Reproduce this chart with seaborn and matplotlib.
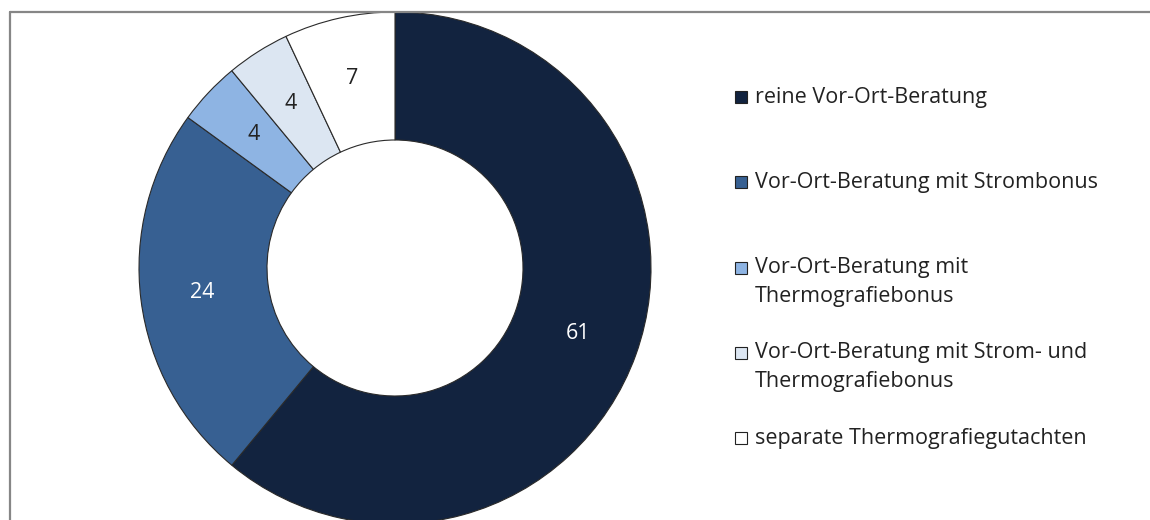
import matplotlib
matplotlib.use("Agg")
import matplotlib.pyplot as plt
import seaborn as sns
from matplotlib.patches import Rectangle
from matplotlib.lines import Line2D

categories = [
    "reine Vor-Ort-Beratung",
    "Vor-Ort-Beratung mit Strombonus",
    "Vor-Ort-Beratung mit\nThermografiebonus",
    "Vor-Ort-Beratung mit Strom- und\nThermografiebonus",
    "separate Thermografiegutachten",
]
values = [61, 24, 4, 4, 7]
colors = ["#12233f", "#376092", "#8eb4e3", "#dce6f2", "#ffffff"]
label_colors = ["white", "white", "#222222", "#222222", "#222222"]

sns.set_theme(style="white")
plt.rcParams["font.family"] = ["Open Sans", "DejaVu Sans"]

W, H = 1150, 520
fig = plt.figure(figsize=(W / 100, H / 100), dpi=100)
ax = fig.add_axes([0, 0, 1, 1])

cx, cy, R = 395, 268, 256
wedges, texts, autotexts = ax.pie(
    values,
    colors=colors,
    startangle=90,
    counterclock=False,
    center=(cx, H - cy),
    radius=R,
    autopct=lambda p: f"{p:.0f}",
    pctdistance=0.76,
    wedgeprops=dict(width=R / 2, edgecolor="#2a2a2a", linewidth=0.8),
    textprops=dict(fontsize=15.5),
    frame=False,
)
ax.set_xlim(0, W)
ax.set_ylim(0, H)
ax.set_aspect("equal")
ax.axis("off")
for t, c in zip(autotexts, label_colors):
    t.set_color(c)

# border lines
ax.add_line(Line2D([10, 10], [0, H - 12], color="#868686", lw=1.6, clip_on=False))
ax.add_line(Line2D([10, W], [H - 12, H - 12], color="#868686", lw=1.6, clip_on=False))

# legend
for i, (lab, col) in enumerate(zip(categories, colors)):
    y = 97 + i * 85.3
    ax.add_patch(Rectangle((735, H - y - 6), 12, 12, facecolor=col, edgecolor="#222222", lw=0.8))
    for j, line in enumerate(lab.split("\n")):
        ax.text(755, H - (y + j * 29), line, fontsize=15.5, color="#222222",
                va="center", ha="left")

fig.savefig("out.png", dpi=100)
